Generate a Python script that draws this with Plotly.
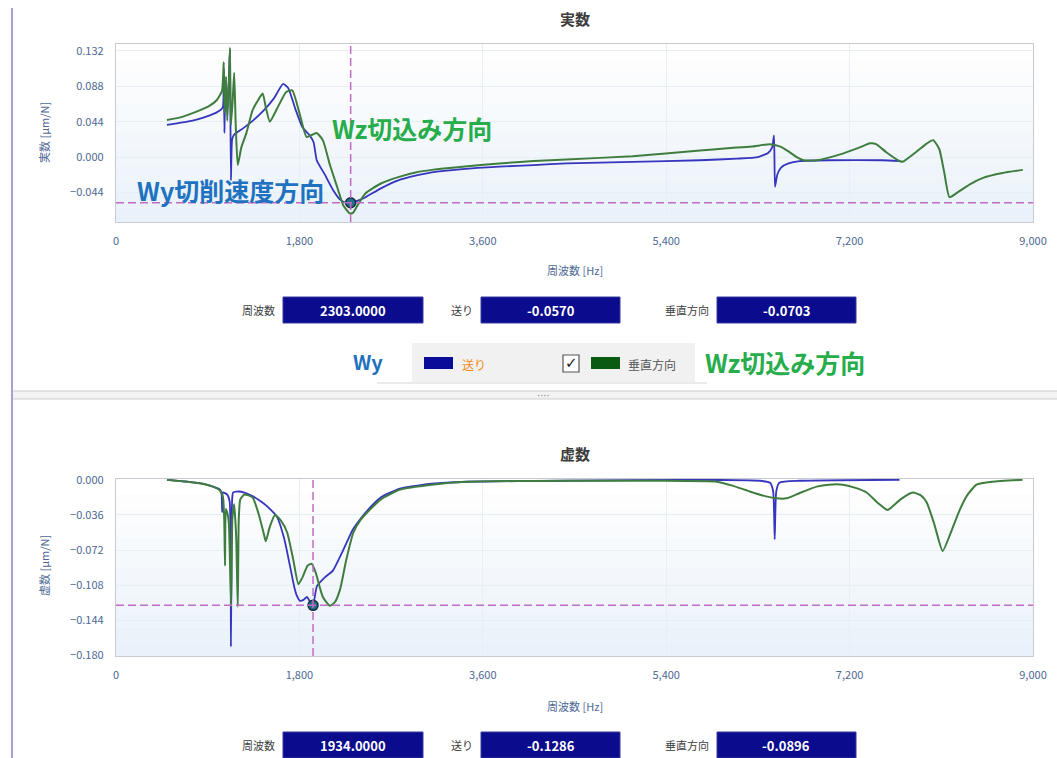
import plotly.graph_objects as go

# ---------------- data ----------------
freq_real_wy = [500, 600, 700, 800, 900, 980, 1030, 1050, 1058, 1064, 1072, 1090, 1105, 1118, 1128, 1140, 1160,
                1250, 1350, 1450, 1550, 1640, 1690, 1760, 1830, 1900, 1940, 1970, 2050, 2130, 2200, 2260, 2303,
                2380, 2450, 2600, 2770, 2950, 3100, 3400, 3760, 4100, 4420, 5070, 5730, 6100, 6300, 6400, 6440,
                6458, 6468, 6490, 6530, 6600, 6710, 7000, 7520, 7690]
real_wy = [0.040, 0.042, 0.044, 0.047, 0.051, 0.055, 0.059, 0.063, 0.110, 0.030, 0.065, 0.072, 0.090, 0.134, -0.029,
           0.022, 0.028, 0.036, 0.046, 0.058, 0.073, 0.091, 0.086, 0.060, 0.037, 0.027, 0.018, -0.004, -0.022,
           -0.041, -0.053, -0.057, -0.057, -0.054, -0.050, -0.039, -0.029, -0.023, -0.019, -0.015, -0.012, -0.010,
           -0.008, -0.006, -0.004, -0.002, 0.000, 0.005, 0.012, 0.027, -0.037, -0.022, -0.013, -0.008, -0.005,
           -0.004, -0.004, -0.005]

freq_real_wz = [500, 650, 820, 920, 990, 1040, 1058, 1066, 1080, 1092, 1108, 1118, 1128, 1145, 1160, 1175, 1195,
                1230, 1280, 1340, 1400, 1440, 1470, 1510, 1580, 1670, 1730, 1800, 1870, 1930, 1970, 2030, 2100,
                2170, 2230, 2290, 2303, 2330, 2380, 2450, 2600, 2770, 2950, 3100, 3400, 3760, 4100, 4420, 5070,
                5730, 6000, 6240, 6420, 6520, 6600, 6680, 6750, 6880, 7100, 7300, 7400, 7460, 7560, 7690, 7720,
                7850, 7960, 8020, 8080, 8130, 8180, 8250, 8380, 8510, 8700, 8900]
real_wz = [0.046, 0.050, 0.058, 0.064, 0.071, 0.082, 0.118, 0.055, 0.100, 0.045, 0.090, 0.136, 0.040, 0.070, 0.105,
           0.040, -0.010, 0.012, 0.030, 0.058, 0.072, 0.079, 0.062, 0.044, 0.060, 0.081, 0.083, 0.055, 0.025,
           0.028, 0.030, 0.021, -0.010, -0.037, -0.060, -0.070, -0.0703, -0.069, -0.058, -0.045, -0.033, -0.025,
           -0.019, -0.016, -0.012, -0.008, -0.005, -0.003, 0.001, 0.008, 0.011, 0.013, 0.016, 0.013, 0.007,
           0.000, -0.004, -0.004, 0.003, 0.012, 0.017, 0.016, 0.006, -0.005, -0.006, 0.006, 0.017, 0.021, 0.010,
           -0.020, -0.050, -0.045, -0.034, -0.026, -0.020, -0.016]

freq_imag_wy = [500, 700, 850, 952, 1020, 1035, 1042, 1050, 1090, 1115, 1128, 1140, 1150, 1216, 1280, 1344, 1420,
                1481, 1580, 1650, 1707, 1750, 1776, 1805, 1840, 1874, 1910, 1934, 1972, 2050, 2129, 2230, 2325,
                2400, 2462, 2600, 2786, 3100, 3443, 4424, 5730, 6320, 6420, 6450, 6465, 6480, 6510, 6710, 7690]
imag_wy = [0.000, -0.002, -0.004, -0.007, -0.010, -0.013, -0.033, -0.013, -0.015, -0.022, -0.171, -0.020, -0.013,
           -0.012, -0.014, -0.017, -0.022, -0.027, -0.038, -0.060, -0.088, -0.110, -0.119, -0.124, -0.123, -0.120,
           -0.126, -0.1286, -0.109, -0.100, -0.093, -0.072, -0.051, -0.040, -0.032, -0.018, -0.009, -0.004,
           -0.002, -0.001, 0.000, -0.001, -0.003, -0.012, -0.061, -0.012, -0.003, -0.001, 0.000]

freq_imag_wz = [500, 700, 850, 952, 1020, 1050, 1062, 1070, 1078, 1095, 1108, 1130, 1142, 1160, 1180, 1195, 1205,
                1220, 1260, 1340, 1400, 1450, 1470, 1510, 1560, 1620, 1680, 1740, 1790, 1830, 1880, 1920, 1960,
                2030, 2100, 2150, 2200, 2260, 2330, 2400, 2460, 2600, 2790, 3100, 3440, 4420, 5300, 5896, 6050,
                6220, 6380, 6484, 6582, 6700, 6877, 7000, 7132, 7250, 7367, 7480, 7573, 7700, 7819, 7900, 7956,
                8030, 8113, 8190, 8280, 8360, 8446, 8600, 8898]
imag_wz = [0.000, -0.002, -0.004, -0.007, -0.011, -0.018, -0.040, -0.088, -0.030, -0.035, -0.045, -0.130, -0.040,
           -0.025, -0.060, -0.130, -0.040, -0.020, -0.015, -0.018, -0.035, -0.055, -0.063, -0.048, -0.036, -0.042,
           -0.054, -0.082, -0.107, -0.100, -0.088, -0.086, -0.095, -0.120, -0.129, -0.125, -0.112, -0.082, -0.054,
           -0.041, -0.034, -0.020, -0.010, -0.005, -0.002, -0.001, -0.001, -0.002, -0.006, -0.012, -0.017,
           -0.019, -0.019, -0.014, -0.007, -0.005, -0.005, -0.008, -0.013, -0.024, -0.031, -0.020, -0.013,
           -0.016, -0.023, -0.045, -0.073, -0.055, -0.031, -0.015, -0.005, -0.002, 0.000]

x_ticks = [0, 1800, 3600, 5400, 7200, 9000]
y_ticks_real = [-0.044, 0.000, 0.044, 0.088, 0.132]
y_ticks_imag = [-0.180, -0.144, -0.108, -0.072, -0.036, 0.000]

cursor_real = {"freq": 2303.0, "wy": -0.0570, "wz": -0.0703}
cursor_imag = {"freq": 1934.0, "wy": -0.1286, "wz": -0.0896}

# ---------------- helpers ----------------
W, H = 1057, 758
FONT = "Noto Sans CJK JP"


def px(x):
    return x / W


def py(y):
    return 1 - y / H


BLUE = "#3535bd"
GREEN = "#3f7d3f"
DASH = "#c36ac3"
DASHSTYLE = "8px,4px"

fig = go.Figure()

line_kw = dict(shape="spline", smoothing=0.5)
fig.add_trace(go.Scatter(x=freq_real_wy, y=real_wy, mode="lines", line=dict(color=BLUE, width=1.8, **line_kw),
                         xaxis="x", yaxis="y", showlegend=False))
fig.add_trace(go.Scatter(x=freq_real_wz, y=real_wz, mode="lines", line=dict(color=GREEN, width=2, **line_kw),
                         xaxis="x", yaxis="y", showlegend=False))
fig.add_trace(go.Scatter(x=freq_imag_wy, y=imag_wy, mode="lines", line=dict(color=BLUE, width=1.8, **line_kw),
                         xaxis="x2", yaxis="y2", showlegend=False))
fig.add_trace(go.Scatter(x=freq_imag_wz, y=imag_wz, mode="lines", line=dict(color=GREEN, width=2, **line_kw),
                         xaxis="x2", yaxis="y2", showlegend=False))

# cursor markers
fig.add_trace(go.Scatter(x=[cursor_real["freq"]], y=[cursor_real["wy"]], mode="markers",
                         marker=dict(size=10, color="#1f7183", line=dict(color="#1c2a40", width=1.5)),
                         xaxis="x", yaxis="y", showlegend=False))
fig.add_trace(go.Scatter(x=[cursor_imag["freq"]], y=[cursor_imag["wy"]], mode="markers",
                         marker=dict(size=10, color="#1f7183", line=dict(color="#1c2a40", width=1.5)),
                         xaxis="x2", yaxis="y2", showlegend=False))

axis_common = dict(showline=True, mirror=True, linecolor="#c9c9d2", linewidth=1.2,
                   gridcolor="#e7eef5", gridwidth=1, zeroline=False, automargin=False,
                   ticks="outside", ticklen=9, tickcolor="rgba(0,0,0,0)",
                   tickfont=dict(family=FONT, size=11, color="#4d6894"))

shapes = []
annotations = []


def ann(text, x, y, size, color, family=FONT, xanchor="center", angle=0):
    annotations.append(dict(text=text, x=px(x), y=py(y), xref="paper", yref="paper", showarrow=False,
                            xanchor=xanchor, yanchor="middle", textangle=angle,
                            font=dict(size=size, color=color, family=family)))


def rect(x0, y0, x1, y1, fill, line=None):
    shapes.append(dict(type="rect", xref="paper", yref="paper", x0=px(x0), x1=px(x1), y0=py(y1), y1=py(y0),
                       fillcolor=fill, line=line or dict(width=0)))


# gradient backgrounds
for yr in ["y", "y2"]:
    n = 12
    for i in range(n):
        t = i / (n - 1)
        r = int(255 - 22 * t)
        g = int(255 - 13 * t)
        b = int(255 - 5 * t)
        shapes.append(dict(type="rect", xref="x domain" if yr == "y" else "x2 domain",
                           yref=yr + " domain", x0=0, x1=1, y0=1 - (i + 1) / n, y1=1 - i / n,
                           fillcolor=f"rgb({r},{g},{b})", line=dict(width=0), layer="below"))

# crosshair dashed lines
shapes.append(dict(type="line", xref="x", yref="y domain", x0=cursor_real["freq"], x1=cursor_real["freq"],
                   y0=0, y1=1, line=dict(color=DASH, width=1.5, dash=DASHSTYLE)))
shapes.append(dict(type="line", xref="x domain", yref="y", x0=0, x1=1, y0=cursor_real["wy"],
                   y1=cursor_real["wy"], line=dict(color=DASH, width=1.5, dash=DASHSTYLE)))
shapes.append(dict(type="line", xref="x2", yref="y2 domain", x0=cursor_imag["freq"], x1=cursor_imag["freq"],
                   y0=0, y1=1, line=dict(color=DASH, width=1.5, dash=DASHSTYLE)))
shapes.append(dict(type="line", xref="x2 domain", yref="y2", x0=0, x1=1, y0=cursor_imag["wy"],
                   y1=cursor_imag["wy"], line=dict(color=DASH, width=1.5, dash=DASHSTYLE)))

# left vertical line
shapes.append(dict(type="line", xref="paper", yref="paper", x0=px(12), x1=px(12), y0=py(8), y1=py(758),
                   line=dict(color="#a2a2d4", width=2)))

# separator
rect(13, 391, W, 399, "#f3f3f3")
for yy in [391, 399]:
    shapes.append(dict(type="line", xref="paper", yref="paper", x0=px(13), x1=1, y0=py(yy), y1=py(yy),
                       line=dict(color="#cdcdcd", width=1)))
ann("····", 543, 395, 10, "#8a8a8a", family="DejaVu Sans")

# titles
ann("<b>実数</b>", 575, 18, 15, "#3c3c3c")
ann("<b>虚数</b>", 575, 453, 15, "#3c3c3c")

# axis titles
for yy in [270, 706]:
    ann("周波数 [Hz]", 575, yy, 11, "#4d6894")
ann("実数 [μm/N]", 44, 133, 11, "#4d6894", angle=-90)
ann("虚数 [μm/N]", 44, 566, 11, "#4d6894", angle=-90)

# in-chart labels
ann("<b>Wz切込み方向</b>", 412, 128, 25, "#27ad4c")
ann("<b>Wy切削速度方向</b>", 230, 190, 25, "#1f72c0")

# value boxes
BOX = "#0b0b8e"


def readout(yc, c):
    items = [("周波数", f"{c['freq']:.4f}", 277, 283, 423),
             ("送り", f"{c['wy']:.4f}", 475, 481, 620),
             ("垂直方向", f"{c['wz']:.4f}", 711, 717, 856)]
    for lab, val, lx, x0, x1 in items:
        rect(x0, yc - 13, x1, yc + 13, BOX, dict(color="#3a3aa0", width=1))
        ann(f"<b>{val}</b>", (x0 + x1) / 2, yc, 13, "white")
        ann(lab, lx, yc, 11, "#404040", xanchor="right")


readout(310, cursor_real)
readout(745, cursor_imag)

# legend bar
rect(412, 343, 695, 382, "#f1f1f1")
shapes.append(dict(type="line", xref="paper", yref="paper", x0=px(377), x1=px(707), y0=py(383), y1=py(383),
                   line=dict(color="#d6d6d6", width=1)))
rect(424, 357, 453, 369, "#0b0b9a")
rect(591, 357, 620, 369, "#0a5a12")
rect(563, 355, 579, 372, "white", dict(color="#555555", width=1.2))
ann("✓", 571.5, 363, 15, "#222222", family="DejaVu Sans")
ann("<b>Wy</b>", 368, 362, 20, "#1f72c0")
ann("送り", 460, 364, 12, "#f08a10", xanchor="left")
ann("垂直方向", 626, 364, 12, "#555555", xanchor="left")
ann("<b>Wz切込み方向</b>", 785, 362, 25, "#27ad4c")

fig.update_layout(
    width=W, height=H, margin=dict(l=0, r=0, t=0, b=0, pad=0, autoexpand=False),
    paper_bgcolor="white", plot_bgcolor="white",
    font=dict(family=FONT),
    xaxis=dict(domain=[px(116), px(1033)], anchor="y", range=[0, 9000], tickvals=x_ticks, tickformat=",d",
               **axis_common),
    yaxis=dict(domain=[py(222), py(44)], anchor="x", range=[-0.0809, 0.1407], tickvals=y_ticks_real,
               tickformat=".3f", **axis_common),
    xaxis2=dict(domain=[px(116), px(1033)], anchor="y2", range=[0, 9000], tickvals=x_ticks, tickformat=",d",
                **axis_common),
    yaxis2=dict(domain=[py(656), py(479)], anchor="x2", range=[-0.1805, 0.0008], tickvals=y_ticks_imag,
                tickformat=".3f", **axis_common),
    shapes=shapes, annotations=annotations,
)

fig.write_html("out.html",
               post_script="document.body.style.margin='0';document.body.style.overflow='hidden';")
